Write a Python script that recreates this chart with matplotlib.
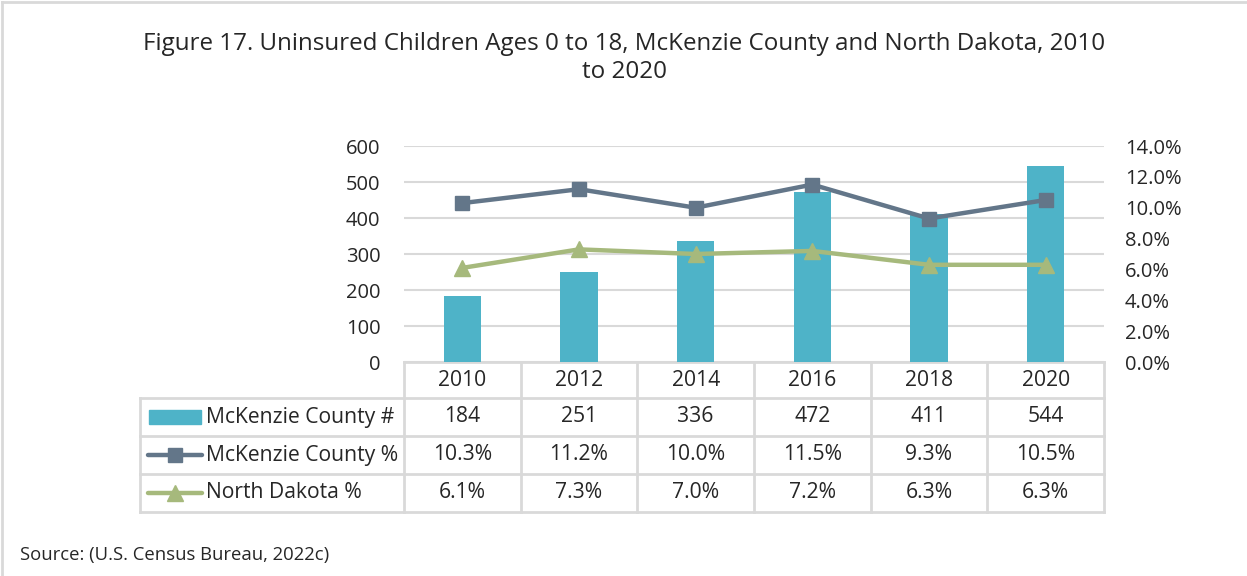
import numpy as np
import matplotlib.pyplot as plt
from matplotlib.lines import Line2D
from matplotlib.patches import Rectangle

plt.rcParams['font.family'] = ['Open Sans', 'DejaVu Sans']

# data
years = ['2010', '2012', '2014', '2016', '2018', '2020']
county_num = [184, 251, 336, 472, 411, 544]
county_pct = [10.3, 11.2, 10.0, 11.5, 9.3, 10.5]
nd_pct = [6.1, 7.3, 7.0, 7.2, 6.3, 6.3]
series_names = ['McKenzie County #', 'McKenzie County %', 'North Dakota %']

bar_c = '#4eb3c8'
mck_c = '#637689'
nd_c = '#a6b97c'
grid_c = '#d9d9d9'
txt_c = '#262626'
fs = 15.2

W, H = 1247, 576
fig = plt.figure(figsize=(W / 100, H / 100), dpi=100)

# overlay in pixel coords for table / frame
ov = fig.add_axes([0, 0, 1, 1], zorder=0)
ov.set_xlim(0, W)
ov.set_ylim(H, 0)
ov.axis('off')

x0, x1 = 404, 1104
top, bot = 146, 362
ax = fig.add_axes([x0 / W, 1 - bot / H, (x1 - x0) / W, (bot - top) / H], zorder=2)
ax.patch.set_alpha(0)
x = np.arange(len(years))
ax.bar(x, county_num, width=0.32, color=bar_c, zorder=2)
ax.set_xlim(-0.5, len(years) - 0.5)
ax.set_ylim(0, 600)
ax.set_yticks(range(0, 601, 100))
ax.set_xticks([])
ax.grid(axis='y', color=grid_c, lw=1.5, zorder=0)
ax.set_axisbelow(True)
for s in ax.spines.values():
    s.set_visible(False)
ax.tick_params(axis='y', length=0, pad=17, labelsize=14.5, labelcolor=txt_c)

ax2 = ax.twinx()
ax2.plot(x, county_pct, color=mck_c, lw=3.2, marker='s', ms=10.5, zorder=3)
ax2.plot(x, nd_pct, color=nd_c, lw=3.2, marker='^', ms=11.5, zorder=3)
ax2.set_ylim(0, 14)
ax2.set_yticks(np.arange(0, 14.1, 2))
ax2.set_yticklabels([f'{v:.1f}%' for v in np.arange(0, 14.1, 2)])
for s in ax2.spines.values():
    s.set_visible(False)
ax2.tick_params(axis='y', length=0, pad=15, labelsize=14.5, labelcolor=txt_c)

# data table
cw = (x1 - x0) / len(years)
rows = [362, 398, 436, 474, 512]
lw_t = 2
ov.plot([x0, x1], [rows[0], rows[0]], color=grid_c, lw=lw_t)
for r in rows[1:]:
    ov.plot([140, x1], [r, r], color=grid_c, lw=lw_t)
ov.plot([140, 140], [rows[1], rows[-1]], color=grid_c, lw=lw_t)
for i in range(len(years) + 1):
    xc = x0 + i * cw
    ov.plot([xc, xc], [rows[0], rows[-1]], color=grid_c, lw=lw_t)

cells = [county_num, [f'{v:.1f}%' for v in county_pct], [f'{v:.1f}%' for v in nd_pct]]
for i, yr in enumerate(years):
    cx = x0 + (i + 0.5) * cw
    ov.text(cx, (rows[0] + rows[1]) / 2, yr, ha='center', va='center', fontsize=fs, color=txt_c)
    for j in range(3):
        ov.text(cx, (rows[j + 1] + rows[j + 2]) / 2, str(cells[j][i]), ha='center', va='center',
                fontsize=fs, color=txt_c)

# legend keys
ov.add_patch(Rectangle((149, 410), 52, 14, color=bar_c))
for j, (c, m, ms) in enumerate([(mck_c, 's', 10.5), (nd_c, '^', 11.5)]):
    yc = (rows[j + 2] + rows[j + 3]) / 2
    ov.add_line(Line2D([148, 202], [yc, yc], color=c, lw=3.2, solid_capstyle='round'))
    ov.add_line(Line2D([175], [yc], color=c, marker=m, ms=ms, lw=0))
for j, name in enumerate(series_names):
    ov.text(206, (rows[j + 1] + rows[j + 2]) / 2, name, ha='left', va='center', fontsize=fs, color=txt_c)

# title, source, frame
ov.text(624, 58, 'Figure 17. Uninsured Children Ages 0 to 18, McKenzie County and North Dakota, 2010\nto 2020',
        ha='center', va='center', fontsize=17.4, color=txt_c, linespacing=1.25)
ov.text(20, 555, 'Source: (U.S. Census Bureau, 2022c)', ha='left', va='center', fontsize=13.3, color=txt_c)
ov.plot([1.5, W], [1.5, 1.5], color=grid_c, lw=2)
ov.plot([1.5, 1.5], [1.5, H], color=grid_c, lw=2)

fig.savefig('out.png', dpi=100)
